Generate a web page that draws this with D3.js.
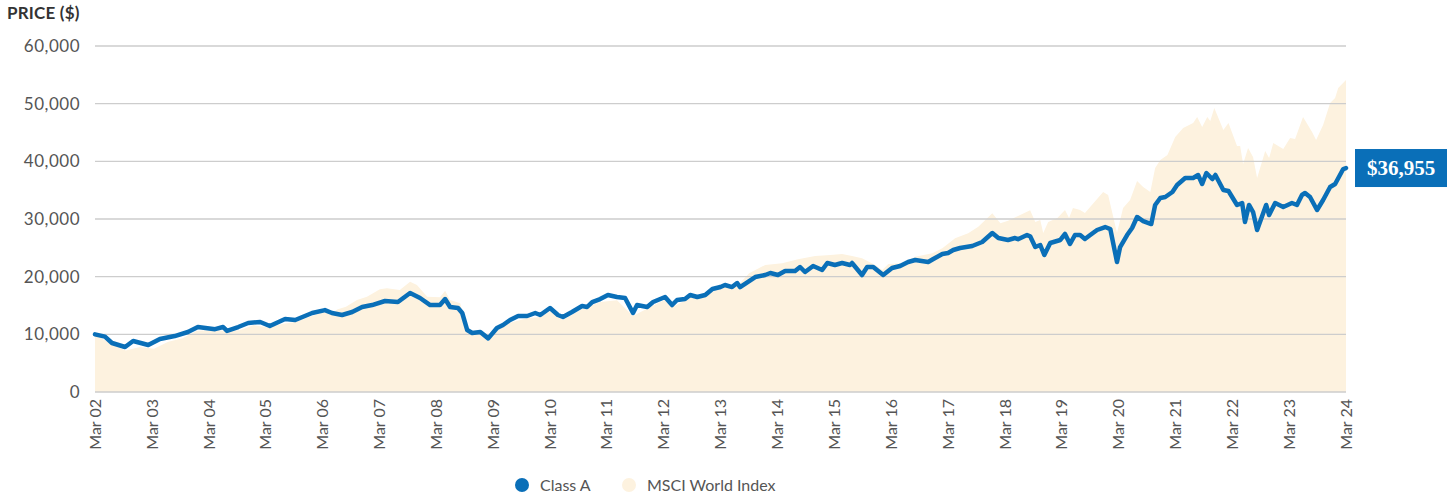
<!DOCTYPE html>
<html>
<head>
<meta charset="utf-8">
<script src="https://cdn.jsdelivr.net/npm/d3@7"></script>
<style>
  body { margin: 0; background: #fff; }
  text { font-family: Lato, "Open Sans", sans-serif; }
</style>
</head>
<body>
<svg id="chart" width="1456" height="497"></svg>
<script>
// growth of 10,000 - Class A line
const classADates = [
  "2002-03-01","2002-05-04","2002-06-18","2002-09-10","2002-11-01","2003-02-06","2003-04-22","2003-07-26",
  "2003-10-19","2003-12-22","2004-04-10","2004-06-01","2004-06-26","2004-09-06","2004-11-09","2005-01-25",
  "2005-03-28","2005-07-04","2005-09-07","2005-12-25","2006-03-17","2006-05-01","2006-07-05","2006-09-08",
  "2006-11-11","2007-01-14","2007-04-07","2007-06-29","2007-09-15","2007-11-18","2008-01-22","2008-03-25",
  "2008-04-27","2008-05-29","2008-07-19","2008-08-15","2008-09-16","2008-10-18","2008-12-09","2009-01-29",
  "2009-03-26","2009-05-04","2009-06-18","2009-08-09","2009-10-06","2009-11-27","2009-12-29","2010-03-02",
  "2010-04-22","2010-05-24","2010-07-21","2010-09-24","2010-10-26","2010-11-28","2011-01-18","2011-03-09",
  "2011-05-06","2011-06-27","2011-08-17","2011-09-12","2011-11-16","2011-12-24","2012-03-10","2012-04-24",
  "2012-05-26","2012-07-16","2012-08-18","2012-10-03","2012-11-23","2013-01-08","2013-03-01","2013-03-30",
  "2013-05-14","2013-06-16","2013-07-05","2013-10-10","2013-12-13","2014-01-15","2014-03-05","2014-04-20",
  "2014-06-23","2014-07-25","2014-08-26","2014-10-17","2014-12-14","2015-01-16","2015-03-06","2015-04-21",
  "2015-06-11","2015-06-24","2015-08-27","2015-09-29","2015-11-07","2016-01-10","2016-03-07","2016-04-28",
  "2016-06-18","2016-08-03","2016-10-25","2016-11-27","2017-01-24","2017-03-02","2017-04-04","2017-05-18",
  "2017-08-04","2017-10-07","2017-12-11","2018-01-19","2018-03-22","2018-05-06","2018-05-25","2018-07-22",
  "2018-08-11","2018-09-13","2018-10-15","2018-11-10","2018-12-18","2019-02-21","2019-03-23","2019-04-24",
  "2019-05-26","2019-06-28","2019-07-29","2019-09-01","2019-10-15","2019-12-06","2020-01-08","2020-02-20",
  "2020-03-11","2020-04-25","2020-05-27","2020-06-28","2020-08-06","2020-09-27","2020-10-22","2020-11-24",
  "2020-12-26","2021-02-10","2021-03-12","2021-05-03","2021-06-23","2021-07-25","2021-08-20","2021-09-16",
  "2021-10-24","2021-11-13","2022-01-03","2022-02-05","2022-04-01","2022-05-04","2022-05-22","2022-06-17",
  "2022-07-13","2022-08-08","2022-10-05","2022-10-24","2022-12-02","2023-01-23","2023-03-20","2023-04-21",
  "2023-05-23","2023-06-12","2023-07-14","2023-08-28","2023-10-06","2023-11-20","2023-12-22","2024-02-12",
  "2024-03-01"
];
const classAValues = [
  10000, 9600, 8500, 7800, 8840, 8150, 9200, 9700,
  10400, 11270, 10900, 11270, 10600, 11270, 11960, 12140,
  11440, 12660, 12480, 13700, 14200, 13700, 13350, 13870,
  14740, 15080, 15780, 15600, 17170, 16300, 15080, 15080,
  16120, 14740, 14560, 13700, 10750, 10230, 10400, 9300,
  11100, 11620, 12480, 13180, 13180, 13700, 13350, 14560,
  13350, 13000, 13870, 14910, 14740, 15600, 16120, 16820,
  16470, 16300, 13700, 15080, 14740, 15600, 16470, 15080,
  15950, 16120, 16820, 16470, 16820, 17860, 18200, 18550,
  18200, 18900, 18200, 19940, 20290, 20640, 20290, 20980,
  20980, 21680, 20810, 21850, 21150, 22370, 22020, 22370,
  22020, 22370, 20290, 21680, 21680, 20290, 21500, 21850,
  22540, 22890, 22540, 23060, 23930, 24100, 24620, 24970,
  25320, 26010, 27570, 26700, 26360, 26700, 26500, 27220,
  27000, 25140, 25490, 23760, 25840, 26360, 27400, 25660,
  27220, 27220, 26530, 27220, 28090, 28610, 28260, 22540,
  25140, 27220, 28440, 30350, 29650, 29130, 32430, 33640,
  33810, 34680, 35890, 37110, 37110, 37630, 36070, 37970,
  36930, 37630, 35030, 34850, 32430, 32770, 29480, 32430,
  31210, 28090, 32430, 30690, 32770, 32080, 32770, 32430,
  34160, 34510, 33810, 31560, 33290, 35550, 36070, 38670,
  38840
];

// MSCI World Index (area)
const msciDates = [
  "2002-03-01","2002-06-15","2002-09-15","2002-12-15","2003-03-15","2003-06-15","2003-09-15","2003-12-15",
  "2004-03-15","2004-06-15","2004-09-15","2004-12-15","2005-03-15","2005-06-15","2005-09-15","2005-12-15",
  "2006-03-15","2006-05-01","2006-06-03","2006-07-30","2006-10-09","2006-12-12","2007-01-20","2007-03-05",
  "2007-04-19","2007-07-11","2007-09-15","2007-10-29","2008-01-03","2008-03-25","2008-04-27","2008-05-29",
  "2008-08-02","2008-09-16","2008-10-18","2008-12-09","2009-01-29","2009-03-26","2009-06-18","2009-10-06",
  "2009-12-29","2010-03-02","2010-05-24","2010-09-24","2011-01-18","2011-05-06","2011-08-17","2011-12-24",
  "2012-03-10","2012-04-24","2012-08-18","2013-01-08","2013-03-30","2013-07-05","2013-09-01","2013-12-13",
  "2014-04-01","2014-07-12","2014-10-30","2015-02-05","2015-04-21","2015-06-24","2015-08-27","2015-11-20",
  "2016-01-04","2016-02-12","2016-05-11","2016-08-03","2016-11-21","2017-01-24","2017-04-16","2017-07-09",
  "2017-09-12","2017-12-11","2018-02-01","2018-03-22","2018-06-08","2018-08-11","2018-09-13","2018-10-15",
  "2018-11-03","2018-12-05","2019-02-02","2019-03-23","2019-04-18","2019-05-13","2019-06-28","2019-07-29",
  "2019-11-23","2019-12-25","2020-02-20","2020-03-30","2020-05-14","2020-06-28","2020-08-06","2020-09-21",
  "2020-10-22","2020-11-24","2021-01-09","2021-02-28","2021-04-20","2021-06-23","2021-07-19","2021-08-20",
  "2021-09-22","2021-10-11","2021-11-06","2021-12-21","2022-01-03","2022-02-05","2022-04-01","2022-04-21",
  "2022-05-10","2022-06-11","2022-07-13","2022-08-08","2022-09-29","2022-10-24","2022-11-20","2023-01-23",
  "2023-03-08","2023-04-09","2023-05-30","2023-07-27","2023-08-22","2023-10-06","2023-11-20","2023-12-22",
  "2024-01-11","2024-03-01"
];
const msciValues = [
  10000, 8300, 7200, 7800, 7500, 8700, 9300, 10600,
  10700, 10600, 10700, 11600, 11200, 11800, 12200, 13100,
  13900, 13500, 14300, 14790, 15950, 16530, 17110, 17800,
  17980, 17690, 19130, 18550, 16530, 16420, 17570, 15950,
  15380, 10500, 9900, 10000, 8800, 10600, 12000, 12800,
  13000, 14000, 12500, 14400, 15600, 15900, 13200, 15000,
  16000, 14700, 16300, 17400, 18300, 18900, 20600, 22020,
  22310, 23000, 23580, 23760, 23930, 23580, 23180, 22020,
  21150, 22200, 22310, 23460, 24050, 24920, 26650, 27520,
  28670, 31000, 29250, 29700, 30690, 31500, 29480, 29820,
  27570, 29480, 30170, 31560, 30170, 31910, 31560, 31040,
  34680, 34160, 27570, 31910, 33290, 36590, 35550, 34680,
  38840, 40230, 41100, 44220, 45780, 46650, 47690, 45950,
  47690, 46990, 49250, 46300, 45430, 46650, 42660, 42660,
  39530, 42310, 40750, 37110, 41790, 40580, 43180, 42140,
  44040, 43870, 47690, 45080, 43700, 46300, 50110, 50980,
  52710, 54100
];

const yTicks = [0, 10000, 20000, 30000, 40000, 50000, 60000];
const xTickYears = d3.range(2002, 2025);
const seriesNames = ["Class A", "MSCI World Index"];
const endLabel = "$36,955";

const blue = "#0a6fb8";
const cream = "#fdf2df";

const parse = d3.timeParse("%Y-%m-%d");
const classA = classADates.map((d, i) => ({ date: parse(d), value: classAValues[i] }));
const msci = msciDates.map((d, i) => ({ date: parse(d), value: msciValues[i] }));

const svg = d3.select("#chart");

const x = d3.scaleTime()
  .domain([new Date(2002, 2, 1), new Date(2024, 2, 1)])
  .range([95, 1346]);
const y = d3.scaleLinear()
  .domain([0, 60000])
  .range([392, 46]);

// msci area
svg.append("path")
  .datum(msci)
  .attr("fill", cream)
  .attr("d", d3.area()
    .x(d => x(d.date))
    .y0(y(0))
    .y1(d => y(d.value)));

// gridlines + y labels
svg.selectAll(".grid")
  .data(yTicks)
.enter().append("line")
  .attr("class", "grid")
  .attr("x1", 95)
  .attr("x2", 1346)
  .attr("y1", d => y(d))
  .attr("y2", d => y(d))
  .attr("stroke", "#cdcdcd")
  .attr("stroke-width", 1.3);

svg.selectAll(".ylab")
  .data(yTicks)
.enter().append("text")
  .attr("class", "ylab")
  .attr("x", 80)
  .attr("y", d => y(d))
  .attr("dy", "0.36em")
  .attr("text-anchor", "end")
  .attr("fill", "#555")
  .style("font-size", "17px")
  .style("letter-spacing", "0.5px")
  .text(d => d3.format(",")(d));

svg.append("text")
  .attr("x", 7)
  .attr("y", 19)
  .attr("fill", "#333")
  .style("font-size", "17px")
  .style("font-weight", "bold")
  .style("letter-spacing", "0.2px")
  .text("PRICE ($)");

// x labels, rotated
svg.selectAll(".xlab")
  .data(xTickYears)
.enter().append("text")
  .attr("class", "xlab")
  .attr("transform", d => `translate(${x(new Date(d, 2, 1))},399) rotate(-90)`)
  .attr("dy", "0.36em")
  .attr("text-anchor", "end")
  .attr("fill", "#555")
  .style("font-size", "16px")
  .text(d => "Mar " + String(d % 100).padStart(2, "0"));

// class A line
svg.append("path")
  .datum(classA)
  .attr("fill", "none")
  .attr("stroke", blue)
  .attr("stroke-width", 4.5)
  .attr("stroke-linejoin", "round")
  .attr("stroke-linecap", "round")
  .attr("d", d3.line()
    .x(d => x(d.date))
    .y(d => y(d.value)));

// end value box
const last = classA[classA.length - 1];
const ly = y(last.value);
svg.append("rect")
  .attr("x", 1355)
  .attr("y", ly - 19)
  .attr("width", 92)
  .attr("height", 38)
  .attr("fill", blue);
svg.append("text")
  .attr("x", 1401)
  .attr("y", ly)
  .attr("dy", "0.35em")
  .attr("text-anchor", "middle")
  .attr("fill", "#fff")
  .style("font-family", "'Liberation Serif', 'DejaVu Serif', serif")
  .style("font-weight", "bold")
  .style("font-size", "21px")
  .text(endLabel);

// legend
const legend = svg.append("g");
const legendX = [522, 629];
const legendColors = [blue, cream];
seriesNames.forEach((name, i) => {
  legend.append("circle")
    .attr("cx", legendX[i])
    .attr("cy", 485)
    .attr("r", 7)
    .attr("fill", legendColors[i]);
  legend.append("text")
    .attr("x", legendX[i] + 18)
    .attr("y", 485)
    .attr("dy", "0.36em")
    .attr("fill", "#555")
    .style("font-size", "16px")
    .text(name);
});
</script>
</body>
</html>
